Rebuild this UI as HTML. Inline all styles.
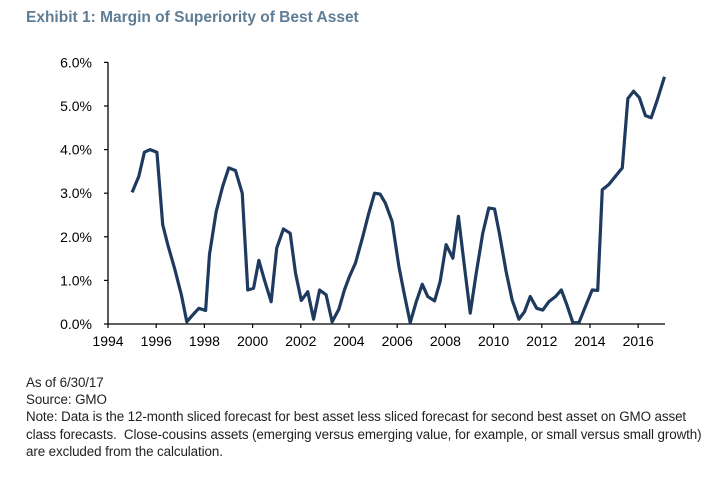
<!DOCTYPE html>
<html><head><meta charset="utf-8"><style>
body{margin:0;background:#fff;width:728px;height:481px;overflow:hidden;font-family:"Liberation Sans",sans-serif;}
#title{position:absolute;left:26px;top:9px;font-size:15.5px;font-weight:bold;color:#5f7d95;}
.note{position:absolute;left:26px;font-size:13.4px;color:#222;line-height:17.2px;white-space:nowrap;letter-spacing:-0.1px;}
svg{position:absolute;left:0;top:0;}
</style></head><body>
<div id="title">Exhibit 1: Margin of Superiority of Best Asset</div>
<svg id="chart" width="728" height="481"></svg>
<div class="note" style="top:374px">As of 6/30/17<br>Source: GMO<br>Note: Data is the 12-month sliced forecast for best asset less sliced forecast for second best asset on GMO asset<br>class forecasts.&nbsp; Close-cousins assets (emerging versus emerging value, for example, or small versus small growth)<br>are excluded from the calculation.</div>
<script>
const years=[1995.0,1995.28,1995.51,1995.75,1996.03,1996.27,1996.48,1996.76,1997.04,1997.27,1997.52,1997.77,1998.05,1998.21,1998.49,1998.76,1999.01,1999.29,1999.57,1999.8,2000.04,2000.26,2000.49,2000.77,2001.0,2001.28,2001.56,2001.78,2002.02,2002.29,2002.53,2002.78,2003.05,2003.3,2003.58,2003.81,2004.02,2004.27,2004.57,2004.82,2005.06,2005.29,2005.51,2005.79,2006.07,2006.3,2006.54,2006.79,2007.04,2007.27,2007.55,2007.78,2008.03,2008.31,2008.54,2008.79,2009.03,2009.28,2009.55,2009.8,2010.04,2010.25,2010.52,2010.77,2011.05,2011.28,2011.52,2011.79,2012.04,2012.29,2012.57,2012.81,2013.04,2013.29,2013.54,2013.81,2014.09,2014.32,2014.51,2014.78,2015.06,2015.34,2015.57,2015.81,2016.05,2016.3,2016.54,2016.81,2017.09];
const values=[3.02,3.39,3.94,4.0,3.94,2.28,1.82,1.28,0.68,0.05,0.21,0.36,0.31,1.59,2.58,3.16,3.58,3.52,3.0,0.78,0.82,1.46,1.01,0.51,1.74,2.18,2.08,1.17,0.54,0.74,0.11,0.78,0.67,0.05,0.34,0.78,1.09,1.40,2.0,2.54,3.0,2.98,2.77,2.35,1.32,0.67,0.03,0.51,0.91,0.63,0.53,0.97,1.82,1.51,2.47,1.32,0.25,1.17,2.08,2.66,2.64,2.05,1.20,0.55,0.11,0.28,0.63,0.36,0.32,0.51,0.63,0.78,0.44,0.03,0.03,0.4,0.78,0.77,3.08,3.2,3.39,3.58,5.17,5.34,5.19,4.78,4.73,5.17,5.67];
const yTicks=[0,1,2,3,4,5,6];
const xTicks=[1994,1996,1998,2000,2002,2004,2006,2008,2010,2012,2014,2016];
const X0=108,Y0=324,XEND=665;
const xs=y=>X0+(y-1994)*24.1;
const ys=v=>Y0-v*43.6;
const svg=document.getElementById('chart');
const NS='http://www.w3.org/2000/svg';
function mk(t,a){const e=document.createElementNS(NS,t);for(const k in a)e.setAttribute(k,a[k]);svg.appendChild(e);return e;}
let e=mk('line',{x1:X0,y1:ys(6),x2:X0,y2:Y0,stroke:'#000','stroke-width':1.3});


e=mk('line',{x1:X0,y1:Y0,x2:XEND,y2:Y0,stroke:'#000','stroke-width':1.3});


yTicks.forEach(v=>{
 mk('line',{x1:X0-4,y1:ys(v),x2:X0,y2:ys(v),stroke:'#000','stroke-width':1.2});
 const t=mk('text',{x:92,y:ys(v)+5,'text-anchor':'end','font-size':14,fill:'#000'});
 t.textContent=v.toFixed(1)+'%';
 
 
});
xTicks.forEach(y=>{
 mk('line',{x1:xs(y),y1:Y0,x2:xs(y),y2:Y0+4,stroke:'#000','stroke-width':1.2});
 const t=mk('text',{x:xs(y),y:Y0+22,'text-anchor':'middle','font-size':14,fill:'#000'});
 t.textContent=y;
 
 
});
const p=mk('polyline',{points:years.map((y,i)=>xs(y)+','+ys(values[i])).join(' '),fill:'none',stroke:'#1f3a5f','stroke-width':3.2,'stroke-linejoin':'round'});


</script>
</body></html>
